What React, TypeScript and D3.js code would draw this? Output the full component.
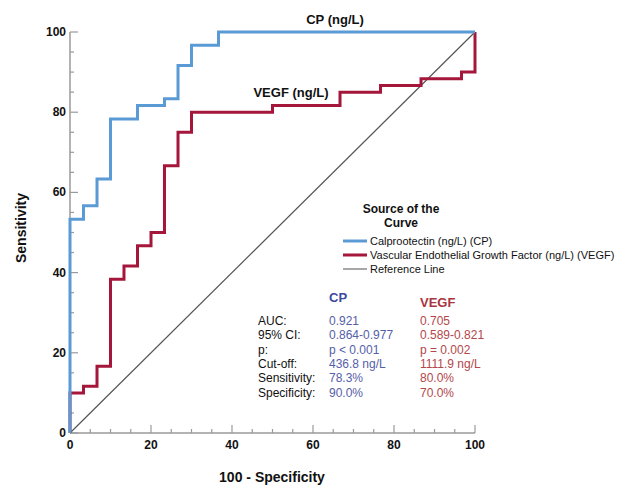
import React from 'react'
import * as d3 from 'd3'

// ROC points (100 - specificity, sensitivity)
const cpFpr = [0, 0, 3.33, 6.67, 10, 16.67, 23.33, 26.67, 30, 36.67, 100]
const cpTpr = [0, 53.33, 56.67, 63.33, 78.33, 81.67, 83.33, 91.67, 96.67, 100, 100]
const vegfFpr = [0, 0, 3.33, 6.67, 10, 13.33, 16.67, 20, 23.33, 26.67, 30, 50, 66.67, 76.67, 86.67, 96.67, 100]
const vegfTpr = [0, 10, 11.67, 16.67, 38.33, 41.67, 46.67, 50, 66.67, 75, 80, 81.67, 85, 86.67, 88.33, 90, 100]
const refLine = [0, 100]

const majorTicks = [0, 20, 40, 60, 80, 100]
const minorTicks = d3.range(0, 101, 5)

const legendItems = [
  { label: 'Calprootectin (ng/L) (CP)', color: '#5b9bd5', width: 3 },
  { label: 'Vascular Endothelial Growth Factor (ng/L) (VEGF)', color: '#a5163b', width: 3 },
  { label: 'Reference Line', color: '#8a8a8a', width: 1.5 },
]

const statLabels = ['AUC:', '95% CI:', 'p:', 'Cut-off:', 'Sensitivity:', 'Specificity:']
const cpStats = ['0.921', '0.864-0.977', 'p < 0.001', '436.8 ng/L', '78.3%', '90.0%']
const vegfStats = ['0.705', '0.589-0.821', 'p = 0.002', '1111.9 ng/L', '80.0%', '70.0%']

const W = 624
const H = 488
const font = 'Arial, "Liberation Sans", sans-serif'

export default function App() {
  const x = d3.scaleLinear().domain([0, 100]).range([70, 475])
  const y = d3.scaleLinear().domain([0, 100]).range([433, 32])

  const step = d3
    .line<[number, number]>()
    .x((d) => x(d[0]))
    .y((d) => y(d[1]))
    .curve(d3.curveStepAfter)
  const straight = d3
    .line<[number, number]>()
    .x((d) => x(d[0]))
    .y((d) => y(d[1]))

  const cpPts = cpFpr.map((v, i) => [v, cpTpr[i]] as [number, number])
  const vegfPts = vegfFpr.map((v, i) => [v, vegfTpr[i]] as [number, number])
  const refPts = refLine.map((v) => [v, v] as [number, number])

  const axisColor = '#9a9a9a'

  return (
    <svg width={W} height={H} style={{ position: 'absolute', left: 0, top: 0, background: '#fff' }} fontFamily={font}>
      {/* axes */}
      <line x1={x(0)} x2={x(100)} y1={y(0)} y2={y(0)} stroke={axisColor} strokeWidth={1.5} />
      <line x1={x(0)} x2={x(0)} y1={y(0)} y2={y(100)} stroke={axisColor} strokeWidth={1.5} />
      {minorTicks.map((t) => {
        const major = t % 20 === 0
        return (
          <g key={'t' + t}>
            <line x1={x(t)} x2={x(t)} y1={y(0)} y2={y(0) - (major ? 8 : 4)} stroke={axisColor} strokeWidth={1.2} />
            <line x1={x(0)} x2={x(0) + (major ? 8 : 4)} y1={y(t)} y2={y(t)} stroke={axisColor} strokeWidth={1.2} />
          </g>
        )
      })}
      {majorTicks.map((t) => (
        <g key={'l' + t} fontSize={12} fontWeight="bold" fill="#111">
          <text x={x(t)} y={y(0) + 16} textAnchor="middle">{t}</text>
          <text x={x(0) - 4} y={y(t) + 4} textAnchor="end">{t}</text>
        </g>
      ))}
      <text x={272} y={482} textAnchor="middle" fontSize={14} fontWeight="bold" fill="#111">100 - Specificity</text>
      <text transform="translate(26,228) rotate(-90)" textAnchor="middle" fontSize={14} fontWeight="bold" fill="#111">Sensitivity</text>

      {/* curves */}
      <path d={straight(refPts) ?? ''} fill="none" stroke="#555" strokeWidth={1.2} />
      <path d={step(vegfPts) ?? ''} fill="none" stroke={legendItems[1].color} strokeWidth={3} strokeLinejoin="miter" />
      <path d={step(cpPts) ?? ''} fill="none" stroke={legendItems[0].color} strokeWidth={3} strokeLinejoin="miter" />

      <text x={335} y={24} textAnchor="middle" fontSize={13} fontWeight="bold" fill="#111">CP (ng/L)</text>
      <text x={291} y={97} textAnchor="middle" fontSize={13} fontWeight="bold" fill="#111">VEGF (ng/L)</text>

      {/* legend */}
      <text x={401} y={213} textAnchor="middle" fontSize={12} fontWeight="bold" fill="#111">Source of the</text>
      <text x={401} y={227} textAnchor="middle" fontSize={12} fontWeight="bold" fill="#111">Curve</text>
      {legendItems.map((d, i) => (
        <g key={d.label} transform={`translate(0,${241 + i * 14})`}>
          <line x1={343} x2={367} y1={0} y2={0} stroke={d.color} strokeWidth={d.width} />
          <text x={370} y={4} fontSize={11} fill="#111">{d.label}</text>
        </g>
      ))}

      {/* stats table */}
      <text x={329} y={302} fontSize={13} fontWeight="bold" fill="#3c4aa0">CP</text>
      <text x={420} y={307} fontSize={13} fontWeight="bold" fill="#a83442">VEGF</text>
      {statLabels.map((lab, i) => (
        <g key={lab} fontSize={12}>
          <text x={258} y={325 + i * 14.3} fill="#111">{lab}</text>
          <text x={329} y={325 + i * 14.3} fill="#5560a8">{cpStats[i]}</text>
          <text x={420} y={325 + i * 14.3} fill="#b3474b">{vegfStats[i]}</text>
        </g>
      ))}
    </svg>
  )
}
